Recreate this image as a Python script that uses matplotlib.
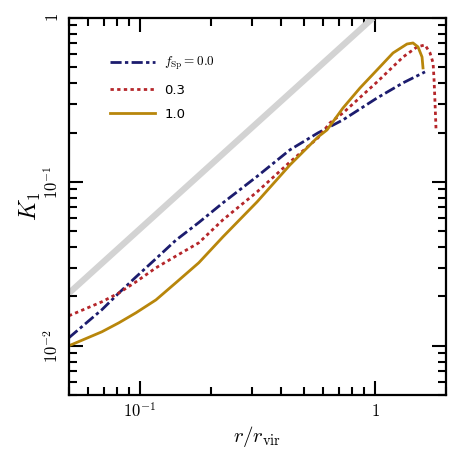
import numpy as np
import matplotlib
matplotlib.use("Agg")
from matplotlib import pyplot as plt

# values
r_f00 = [0.0499, 0.0689, 0.0814, 0.0962, 0.117, 0.142, 0.178, 0.2255, 0.315, 0.435, 0.572, 0.731, 1.020, 1.316, 1.632]
k_f00 = [0.0112, 0.0166, 0.0210, 0.0263, 0.0340, 0.0440, 0.0565, 0.0745, 0.108, 0.157, 0.199, 0.239, 0.325, 0.402, 0.469]

r_f03 = [0.0499, 0.0689, 0.0814, 0.0962, 0.117, 0.142, 0.178, 0.2255, 0.315, 0.435, 0.572, 0.643, 0.731,
         1.020, 1.316, 1.509, 1.632, 1.714, 1.766, 1.783, 1.800, 1.818]
k_f03 = [0.01524, 0.01855, 0.0210, 0.02455, 0.0299, 0.0352, 0.0425, 0.0587, 0.0869, 0.1324, 0.1855, 0.229, 0.2635,
         0.407, 0.578, 0.666, 0.685, 0.612, 0.532, 0.419, 0.303, 0.2075]

r_f10 = [0.0499, 0.0689, 0.0814, 0.0962, 0.117, 0.142, 0.178, 0.2255, 0.315, 0.435, 0.572, 0.625, 0.731,
         0.863, 1.020, 1.193, 1.368, 1.451, 1.524, 1.585, 1.600]
k_f10 = [0.0100, 0.01217, 0.01381, 0.01589, 0.01905, 0.0242, 0.0321, 0.0462, 0.0755, 0.127, 0.188, 0.2075, 0.2826,
         0.374, 0.482, 0.612, 0.694, 0.704, 0.666, 0.578, 0.496]

r_ref = [0.05, 0.98]
k_ref = [0.021, 1.0]

labels = [r'$f_{\rm Sp} = 0.0$', '0.3', '1.0']

plt.rcParams['mathtext.fontset'] = 'cm'

fig = plt.figure(figsize=(4.61, 4.50), dpi=100)
ax = fig.add_axes([0.15, 0.122, 0.817, 0.838])

ax.plot(r_ref, k_ref, color='#d3d3d3', lw=4.5, solid_capstyle='butt')
ax.plot(r_f00, k_f00, color='#1c1c6e', lw=2.0, dashes=(4.0, 1.2, 1.2, 1.2), label=labels[0])
ax.plot(r_f03, k_f03, color='#b5262a', lw=2.0, dashes=(1.2, 1.2), label=labels[1])
ax.plot(r_f10, k_f10, color='#b8860b', lw=2.0, label=labels[2])

ax.set_xscale('log')
ax.set_yscale('log')
ax.set_xlim(0.05, 2.0)
ax.set_ylim(0.005, 1.0)

ax.set_xticks([0.1, 1])
ax.set_xticklabels([r'$10^{-1}$', r'$1$'])
ax.set_yticks([0.01, 0.1, 1])
ax.set_yticklabels([r'$10^{-2}$', r'$10^{-1}$', r'$1$'], rotation=90, va='center')

for s in ax.spines.values():
    s.set_linewidth(1.6)
ax.tick_params(which='both', direction='in', top=True, right=True, labelsize=12, width=1.5)
ax.tick_params(which='major', length=10, pad=5)
ax.tick_params(which='minor', length=5.5)

ax.set_xlabel(r'$r/r_{\rm vir}$', fontsize=15, labelpad=2)
ax.set_ylabel(r'$K_1$', fontsize=17, labelpad=0)

ax.legend(loc='upper left', bbox_to_anchor=(0.095, 0.915), borderaxespad=0, frameon=False, fontsize=9.5,
          handlelength=3.4, handletextpad=0.7, labelspacing=0.85)

plt.savefig('out.png', dpi=100)
